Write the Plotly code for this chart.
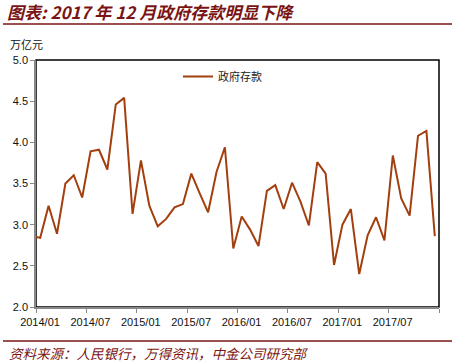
import plotly.graph_objects as go

months = ["2013/12"] + [f"{y}/{m:02d}" for y in range(2014, 2018) for m in range(1, 13)]
deposits = [
    2.86,
    2.84, 3.23, 2.89, 3.50, 3.60, 3.33, 3.89, 3.91, 3.67, 4.46, 4.54, 3.13,
    3.78, 3.23, 2.98, 3.07, 3.21, 3.25, 3.62, 3.38, 3.15, 3.64, 3.94, 2.71,
    3.10, 2.94, 2.74, 3.41, 3.48, 3.19, 3.51, 3.28, 2.99, 3.76, 3.62, 2.51,
    3.00, 3.19, 2.40, 2.87, 3.09, 2.81, 3.84, 3.32, 3.11, 4.08, 4.14, 2.86,
]
tick_months = ["2014/01", "2014/07", "2015/01", "2015/07", "2016/01", "2016/07", "2017/01", "2017/07"]
series_name = "政府存款"
title_text = "图表: 2017 年 12 月政府存款明显下降"
unit_text = "万亿元"
source_text = "资料来源：人民银行，万得资讯，中金公司研究部"

W, H = 456, 364
ML, MR, MT, MB = 36, 17, 60, 57
pw, ph = W - ML - MR, H - MT - MB

def px_x(x):
    return (x - ML) / pw

def px_y(y):
    return (H - MB - y) / ph

xpos = list(range(len(months)))
tickvals = [months.index(m) - 0.5 for m in tick_months] + [len(months) - 0.5]
ticktext = tick_months + [""]

DARKRED = "#7A1414"
LINE = "#A33F0F"
CJK = "Noto Sans CJK SC"

fig = go.Figure()
fig.add_trace(go.Scatter(
    x=xpos, y=deposits, mode="lines", name=series_name,
    line=dict(color=LINE, width=2),
    showlegend=True,
))

fig.update_layout(
    width=W, height=H,
    margin=dict(l=ML, r=MR, t=MT, b=MB),
    paper_bgcolor="white", plot_bgcolor="white",
    showlegend=True,
    legend=dict(
        x=px_x(178), y=px_y(62), xanchor="left", yanchor="top",
        orientation="h", bgcolor="rgba(0,0,0,0)",
        font=dict(family=CJK, size=11, color="#222"),
        itemwidth=30,
    ),
    xaxis=dict(
        range=[0.5, len(months) - 0.5],
        tickmode="array", tickvals=tickvals, ticktext=ticktext,
        ticks="outside", ticklen=4, tickcolor="#888", tickwidth=1,
        ticklabelshift=4,
        showline=True, linecolor="#888", linewidth=1.5,
        showgrid=False, zeroline=False,
        tickfont=dict(family="Liberation Sans", size=11, color="#111"),
    ),
    yaxis=dict(
        range=[2.0, 5.0], dtick=0.5, tickformat=".1f",
        ticks="outside", ticklen=4, tickcolor="#888", tickwidth=1,
        showline=True, linecolor="#888", linewidth=1.5,
        showgrid=False, zeroline=False,
        tickfont=dict(family="Liberation Sans", size=11, color="#111"),
    ),
    shapes=[
        dict(type="rect", xref="x domain", yref="y domain", x0=0, x1=1, y0=0, y1=1,
             line=dict(color="black", width=1.5), layer="below"),
        dict(type="line", xref="paper", yref="paper",
             x0=px_x(3), x1=px_x(452), y0=px_y(24), y1=px_y(24),
             line=dict(color=DARKRED, width=1.5)),
        dict(type="line", xref="paper", yref="paper",
             x0=px_x(3), x1=px_x(452), y0=px_y(341), y1=px_y(341),
             line=dict(color=DARKRED, width=1.5)),
    ],
    annotations=[
        dict(text=title_text, xref="paper", yref="paper", x=px_x(5), y=px_y(12),
             xanchor="left", yanchor="middle", showarrow=False,
             font=dict(family=CJK, size=17, color=DARKRED, style="italic", weight="bold")),
        dict(text=unit_text, xref="paper", yref="paper", x=px_x(8), y=px_y(44),
             xanchor="left", yanchor="middle", showarrow=False,
             font=dict(family=CJK, size=11, color="#111")),
        dict(text=source_text, xref="paper", yref="paper", x=px_x(7), y=px_y(353),
             xanchor="left", yanchor="middle", showarrow=False,
             font=dict(family=CJK, size=13.5, color=DARKRED, style="italic")),
    ],
)

fig.write_html(
    "out.html",
    config={"displayModeBar": False},
    post_script="document.body.style.margin='0';document.body.style.padding='0';",
)
